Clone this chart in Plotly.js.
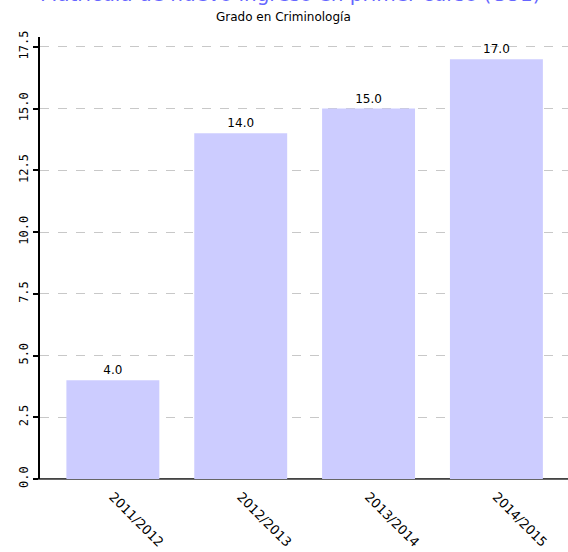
<!DOCTYPE html>
<html><head><meta charset="utf-8">
<script src="https://cdn.plot.ly/plotly-3.0.1.min.js"></script>
<style>html,body{margin:0;padding:0;background:#fff}#chart{width:568px;height:552px}</style>
</head><body><div id="chart"></div>
<script>
const categories = ["2011/2012", "2012/2013", "2013/2014", "2014/2015"];
const values = [4.0, 14.0, 15.0, 17.0];
const yTicks = [0, 2.5, 5, 7.5, 10, 12.5, 15, 17.5];
const yTickLabels = ["0.0", "2.5", "5.0", "7.5", "10.0", "12.5", "15.0", "17.5"];
const titleText = "Matrícula de nuevo ingreso en primer curso (CU1)";
const subtitleText = "Grado en Criminología";

const trace = {
  type: "bar",
  x: categories,
  y: values,
  width: 0.727,
  marker: {color: "#ccccff", line: {width: 0}},
  text: values.map(v => v.toFixed(1)),
  textposition: "outside",
  cliponaxis: false,
  textfont: {family: "DejaVu Sans", size: 12, color: "#000"},
  hoverinfo: "none"
};

const layout = {
  width: 568, height: 552,
  margin: {l: 40, r: 0, t: 37, b: 73},
  paper_bgcolor: "#fff", plot_bgcolor: "#fff",
  showlegend: false,
  annotations: [
    {text: titleText, xref: "paper", yref: "paper", x: 0.473, y: 1, yshift: 43,
     xanchor: "center", yanchor: "middle", showarrow: false,
     font: {family: "DejaVu Sans", size: 20, color: "#6666ff"}},
    {text: subtitleText, xref: "paper", yref: "paper", x: 0.462, y: 1, yshift: 20,
     xanchor: "center", yanchor: "middle", showarrow: false,
     font: {family: "DejaVu Sans", size: 12, color: "#000"}}],
  xaxis: {
    range: [-0.57, 3.56], type: "category",
    tickangle: 45, tickfont: {family: "DejaVu Sans", size: 13, color: "#000"},
    ticklabelstandoff: 4,
    showgrid: false, showline: true, linecolor: "#666", linewidth: 1,
    ticks: "", automargin: false
  },
  yaxis: {
    range: [0, 17.9], tickvals: yTicks, ticktext: yTickLabels, tickangle: -90,
    tickfont: {family: "DejaVu Sans Mono", size: 12, color: "#000"},
    showgrid: true, gridcolor: "#c8c8c8", griddash: "dash", gridwidth: 1,
    zeroline: true, zerolinecolor: "#444", zerolinewidth: 2,
    showline: true, linecolor: "#000", linewidth: 2,
    ticks: "outside", ticklen: 5, tickwidth: 2, tickcolor: "#000",
    automargin: false
  }
};

Plotly.newPlot("chart", [trace], layout, {staticPlot: true, displayModeBar: false});
</script></body></html>
